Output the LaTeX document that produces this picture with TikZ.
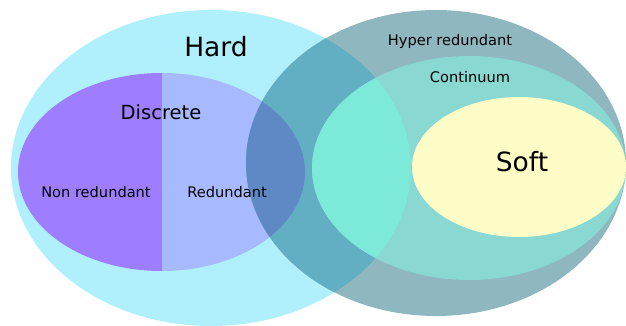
\documentclass[tikz,border=0pt]{standalone}
\usepackage{fontspec}
\setmainfont{DejaVu Sans}
\usepackage{xcolor}
\usetikzlibrary{positioning}
\definecolor{hardcyan}{HTML}{AFF0FC}
\definecolor{nonredpurple}{HTML}{9E7EFE}
\definecolor{redlavender}{HTML}{A7B9FF}
\definecolor{hypergrey}{HTML}{8FB7C0}
\definecolor{hyperhard}{HTML}{62AFC3}
\definecolor{hyperred}{HTML}{5F89C4}
\definecolor{contteal}{HTML}{89D8D2}
\definecolor{conthard}{HTML}{7DE9D9}
\definecolor{softyellow}{HTML}{FFFDC7}

\begin{document}
\begin{tikzpicture}[x=1pt, y=-1pt,
    biglabel/.style={font=\fontsize{26.5}{30}\selectfont},
    midlabel/.style={font=\fontsize{19.5}{23}\selectfont},
    smalllabel/.style={font=\fontsize{14.6}{17}\selectfont}]
  \useasboundingbox (0,0) rectangle (626,326);

  % hard set
  \fill[hardcyan] (211,168) ellipse [x radius=200pt, y radius=158pt];

  % discrete set, split in two halves
  \begin{scope}
    \clip (161.5,172) ellipse [x radius=143.5pt, y radius=99pt];
    \fill[nonredpurple] (0,60) rectangle (162,280);
    \fill[redlavender] (162,60) rectangle (320,280);
  \end{scope}

  % hyper redundant set and its overlaps
  \fill[hypergrey] (436,163) ellipse [x radius=190pt, y radius=153pt];
  \begin{scope}
    \clip (211,168) ellipse [x radius=200pt, y radius=158pt];
    \fill[hyperhard] (436,163) ellipse [x radius=190pt, y radius=153pt];
    \clip (161.5,172) ellipse [x radius=143.5pt, y radius=99pt];
    \fill[hyperred] (436,163) ellipse [x radius=190pt, y radius=153pt];
  \end{scope}

  % continuum set
  \fill[contteal] (469,168) ellipse [x radius=157pt, y radius=112pt];
  \begin{scope}
    \clip (211,168) ellipse [x radius=200pt, y radius=158pt];
    \fill[conthard] (469,168) ellipse [x radius=157pt, y radius=112pt];
  \end{scope}

  % soft set
  \fill[softyellow] (519,167) ellipse [x radius=107pt, y radius=70pt];

  % labels
  \node[biglabel] (hard) at (216,47) {Hard};
  \node[midlabel] (discrete) at (161,112) {Discrete};
  \node[smalllabel] (nonred) at (96,192) {Non redundant};
  \node[smalllabel] (red) at (227,192) {Redundant};
  \node[smalllabel] (hyper) at (450,41) {Hyper redundant};
  \node[smalllabel] (continuum) at (470,77) {Continuum};
  \node[biglabel] (soft) at (522,162) {Soft};
\end{tikzpicture}
\end{document}
